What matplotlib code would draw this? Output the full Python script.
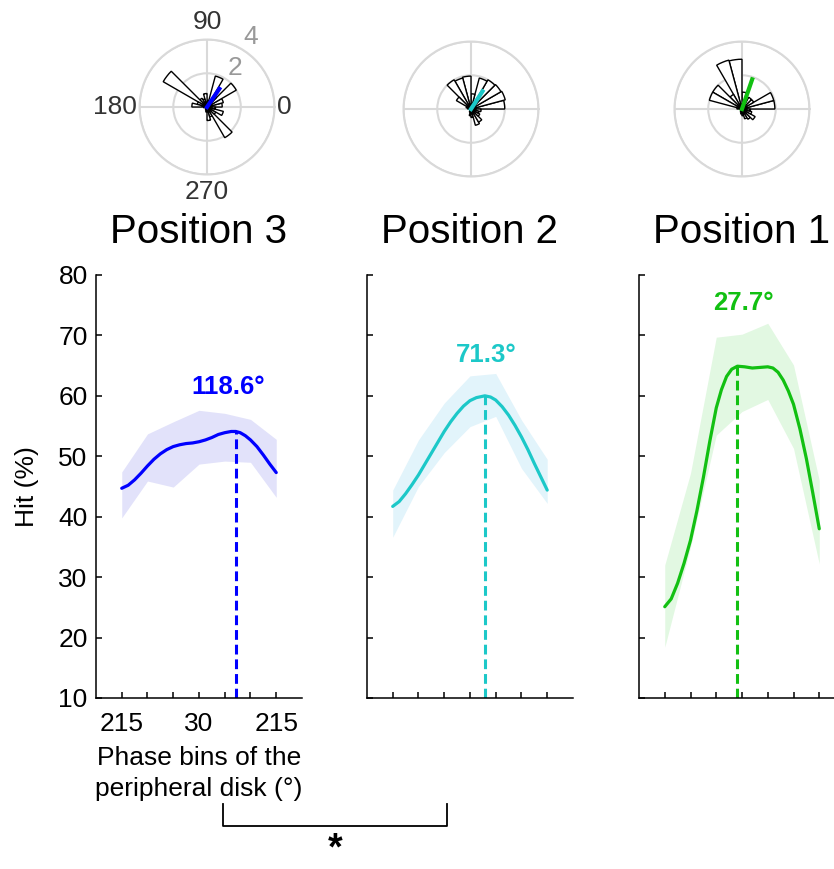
import numpy as np
import matplotlib
matplotlib.use('Agg')
import matplotlib.pyplot as plt
from matplotlib.lines import Line2D

plt.rcParams['font.family'] = ['Liberation Sans', 'DejaVu Sans']

# phase bins (x positions 1..7), tick labels
bin_ticks = [1, 2, 3, 4, 5, 6, 7]
bin_labels = ['215', '', '', '30', '', '', '215']

# smooth fitted curves
pos3_x = [1.0, 1.25, 1.5, 1.75, 2.0, 2.25, 2.5, 2.75, 3.0, 3.25, 3.5, 3.75, 4.0,
          4.25, 4.5, 4.75, 5.0, 5.25, 5.43, 5.6, 5.8, 6.0, 6.25, 6.5, 6.75, 7.0]
pos3_y = [44.7, 45.2, 46.1, 47.2, 48.4, 49.5, 50.4, 51.1, 51.6, 51.9, 52.1, 52.2, 52.4,
          52.7, 53.1, 53.6, 53.9, 54.1, 54.1, 53.9, 53.4, 52.7, 51.6, 50.2, 48.7, 47.3]
pos2_x = [1.0, 1.25, 1.5, 1.75, 2.0, 2.25, 2.5, 2.75, 3.0, 3.25, 3.5, 3.75, 4.0,
          4.25, 4.58, 4.8, 5.0, 5.25, 5.5, 5.75, 6.0, 6.25, 6.5, 6.75, 7.0]
pos2_y = [41.7, 42.5, 43.8, 45.3, 46.9, 48.7, 50.5, 52.3, 54.1, 55.7, 57.1, 58.3, 59.2,
          59.7, 60.0, 59.8, 59.3, 58.2, 56.8, 55.1, 53.2, 51.1, 48.8, 46.6, 44.4]
pos1_x = [1.0, 1.25, 1.5, 1.75, 2.0, 2.25, 2.5, 2.75, 3.0, 3.2, 3.4, 3.6, 3.82, 4.1,
          4.4, 4.7, 5.0, 5.2, 5.4, 5.6, 5.8, 6.0, 6.25, 6.5, 6.75, 7.0]
pos1_y = [25.1, 26.4, 29.0, 32.3, 36.1, 41.0, 46.5, 52.5, 58.0, 61.0, 63.2, 64.4, 64.9, 64.8,
          64.6, 64.7, 64.8, 64.6, 63.9, 62.6, 60.8, 58.6, 54.5, 49.6, 43.9, 38.0]

# shaded error bands at the 7 bins
pos3_hi = [47.4, 53.7, 55.7, 57.6, 57.1, 56.1, 52.8]
pos3_lo = [39.8, 45.9, 44.9, 48.7, 49.2, 49.0, 43.2]
pos2_hi = [44.4, 52.7, 58.8, 63.3, 63.7, 56.0, 49.5]
pos2_lo = [36.6, 45.0, 50.6, 54.9, 56.6, 48.0, 42.2]
pos1_hi = [32.0, 47.2, 69.7, 70.2, 72.0, 65.1, 46.0]
pos1_lo = [18.4, 35.0, 53.5, 57.4, 59.4, 51.3, 32.2]

# peak (x, y) and preferred phase labels
peaks = [(5.43, 54.1), (4.58, 60.0), (3.82, 64.9)]
peak_labels = ['118.6°', '71.3°', '27.7°']
label_pos = [(5.12, 61.5), (4.63, 66.8), (4.05, 75.3)]

titles = ['Position 3', 'Position 2', 'Position 1']
colors = ['#0000ff', '#1cc8c8', '#12c012']
fills = ['#e2e2fa', '#e2f4fb', '#e2f8e2']

# rose histograms (24 bins of 15 deg)
rose_centers = np.arange(7.5, 360, 15)
rose_pos3 = [0.9, 1.0, 2.0, 0.8, 1.9, 0.4, 0.8, 0.5, 0.6, 3.0, 0.6, 0.9,
             0.2, 0.1, 0.1, 0.1, 0.2, 0.3, 0.8, 0.6, 2.1, 0.6, 1.0, 0.5]
rose_pos2 = [2.0, 2.1, 2.05, 2.0, 1.9, 0.9, 1.95, 1.9, 2.0, 1.0, 0.3, 0.2,
             0.1, 0.1, 0.1, 0.1, 0.2, 0.4, 0.5, 1.0, 0.9, 0.6, 0.5, 0.6]
rose_pos1 = [1.95, 1.95, 0.8, 0.8, 0.6, 1.0, 2.95, 3.0, 1.0, 2.0, 2.0, 0.3,
             0.1, 0.1, 0.1, 0.1, 0.2, 0.3, 0.4, 0.6, 0.7, 0.9, 0.6, 0.5]
mean_angle = [56, 57, 71]
mean_len = [1.3, 1.25, 1.86]

curves = [(pos3_x, pos3_y, pos3_hi, pos3_lo, rose_pos3),
          (pos2_x, pos2_y, pos2_hi, pos2_lo, rose_pos2),
          (pos1_x, pos1_y, pos1_hi, pos1_lo, rose_pos1)]

fig = plt.figure(figsize=(8.34, 8.69), dpi=100)

ax_lefts = [0.1151, 0.4400, 0.7662]
polar_lefts = [0.1673, 0.4838, 0.8087]
polar_bottoms = [0.7992, 0.7969, 0.7969]

for i, (cx, cy, hi, lo, rose) in enumerate(curves):
    ax = fig.add_axes([ax_lefts[i], 0.1968, 0.247, 0.4868])
    ax.fill_between(bin_ticks, lo, hi, color=fills[i], lw=0)
    ax.plot(cx, cy, color=colors[i], lw=2.3, solid_capstyle='round', solid_joinstyle='round')
    px, py = peaks[i]
    ax.plot([px, px], [10, py], color=colors[i], lw=2.2, linestyle=(0, (3.2, 1.6)))
    ax.text(label_pos[i][0], label_pos[i][1], peak_labels[i], color=colors[i],
            fontsize=18.5, fontweight='bold', ha='center', va='center')
    ax.set_xlim(0, 8)
    ax.set_ylim(10, 80)
    ax.set_yticks(range(10, 81, 10))
    ax.set_xticks(bin_ticks)
    ax.spines['top'].set_visible(False)
    ax.spines['right'].set_visible(False)
    ax.spines['left'].set_linewidth(1.1)
    ax.spines['bottom'].set_linewidth(1.1)
    ax.tick_params(direction='in', length=4, width=1.1, labelsize=19, pad=6)
    ax.tick_params(axis='x', pad=10)
    ax.set_title(titles[i], fontsize=29, pad=23)
    if i == 0:
        ax.set_xticklabels(bin_labels)
        ax.set_ylabel('Hit (%)', fontsize=19, labelpad=14)
        ax.set_xlabel('Phase bins of the\nperipheral disk (°)', fontsize=19,
                      linespacing=1.4, labelpad=7)
    else:
        ax.set_xticklabels([])
        ax.set_yticklabels([])

    # rose plot
    pa = fig.add_axes([polar_lefts[i], polar_bottoms[i], 0.1619, 0.1553], projection='polar')
    pa.bar(np.deg2rad(rose_centers), rose, width=np.deg2rad(15), bottom=0,
           facecolor='white', edgecolor='black', lw=1.0, zorder=3)
    a = np.deg2rad(mean_angle[i])
    pa.plot([a, a], [0, mean_len[i]], color=colors[i], lw=3, zorder=4)
    pa.set_rlim(0, 4)
    pa.set_thetagrids([0, 90, 180, 270], labels=['', '', '', ''])
    pa.set_rgrids([2, 4], labels=['', ''])
    pa.grid(color='#d9d9d9', lw=1.5)
    pa.spines['polar'].set_color('#d9d9d9')
    pa.spines['polar'].set_linewidth(1.5)
    pa.tick_params(length=0)
    if i == 0:
        dark = '#333333'
        pa.text(np.pi / 2, 4.3, '90', ha='center', va='bottom', fontsize=19, color=dark)
        pa.text(3 * np.pi / 2, 4.3, '270', ha='center', va='top', fontsize=19, color=dark)
        pa.text(0, 4.15, '0', ha='left', va='center', fontsize=19, color=dark)
        pa.text(np.pi, 4.15, '180', ha='right', va='center', fontsize=19, color=dark)
        pa.text(np.deg2rad(58), 4.87, '4', ha='center', va='center', fontsize=19, color='#999999')
        pa.text(np.deg2rad(54), 2.84, '2', ha='center', va='center', fontsize=19, color='#999999')

# significance bracket between Position 3 and Position 2
bx0, bx1 = 223 / 834, 447 / 834
by0, by1 = 1 - 804 / 869, 1 - 826 / 869
fig.add_artist(Line2D([bx0, bx0, bx1, bx1], [by0, by1, by1, by0], color='black', lw=1.3))
fig.text((bx0 + bx1) / 2, 1.5 / 869, '*', ha='center', va='bottom', fontsize=27, fontweight='bold')

fig.savefig('out.png', dpi=100)
